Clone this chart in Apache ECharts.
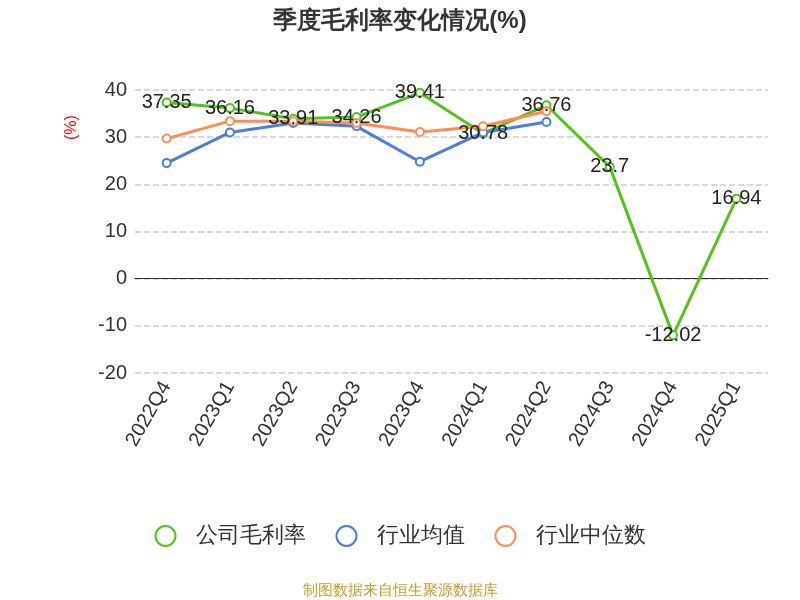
<!DOCTYPE html>
<html><head><meta charset="utf-8">
<script src="https://cdn.jsdelivr.net/npm/echarts@6/dist/echarts.min.js"></script>
</head><body style="margin:0">
<div id="main" style="width:800px;height:600px"></div>
<script>
var categories = ['2022Q4', '2023Q1', '2023Q2', '2023Q3', '2023Q4', '2024Q1', '2024Q2', '2024Q3', '2024Q4', '2025Q1'];
var company = [37.35, 36.16, 33.91, 34.26, 39.41, 30.78, 36.76, 23.7, -12.02, 16.94];
var industryAvg = [24.5, 31.0, 33.0, 32.3, 24.8, 31.0, 33.2, null, null, null];
var industryMedian = [29.7, 33.4, 33.4, 33.0, 31.1, 32.3, 35.5, null, null, null];

var myChart = echarts.init(document.getElementById('main'));
var option = {
    title: {
        text: '季度毛利率变化情况(%)',
        left: 'center',
        top: 4,
        textStyle: { fontSize: 24, fontWeight: 'bold', color: '#333' }
    },
    legend: {
        bottom: 48,
        itemWidth: 50,
        itemHeight: 20,
        itemGap: 30,
        icon: 'emptyCircle',
        textStyle: { fontSize: 22, color: '#333' },
        data: ['公司毛利率', '行业均值', '行业中位数']
    },
    graphic: [{
        type: 'text',
        left: 'center',
        bottom: 2,
        style: { text: '制图数据来自恒生聚源数据库', fill: '#c89a2c', fontSize: 15 }
    }, {
        type: 'text',
        x: 64, y: 140,
        rotation: Math.PI / 2,
        style: { text: '(%)', fill: 'red', fontSize: 16 }
    }],
    grid: { left: 135, right: 32, top: 90, bottom: 227 },
    xAxis: {
        type: 'category',
        data: categories,
        axisLine: { lineStyle: { color: '#333' } },
        axisTick: { length: 8 },
        axisLabel: { rotate: 60, fontSize: 20, color: '#333', interval: 0, margin: 10 }
    },
    yAxis: {
        type: 'value',
        min: -20, max: 40, interval: 10,
        axisLine: { show: false },
        axisTick: { show: false },
        axisLabel: { fontSize: 20, color: '#333' },
        splitLine: { lineStyle: { type: 'dashed', color: '#ccc', width: 1.5 } }
    },
    series: [{
        name: '公司毛利率',
        type: 'line',
        data: company,
        symbol: 'emptyCircle',
        symbolSize: 8,
        itemStyle: { color: '#52c41a' },
        lineStyle: { width: 3 },
        label: { show: true, position: 'inside', fontSize: 20, color: '#222' },
        z: 3
    }, {
        name: '行业均值',
        type: 'line',
        data: industryAvg,
        symbol: 'emptyCircle',
        symbolSize: 8,
        itemStyle: { color: '#4a7fe0' },
        lineStyle: { width: 3 }
    }, {
        name: '行业中位数',
        type: 'line',
        data: industryMedian,
        symbol: 'emptyCircle',
        symbolSize: 8,
        itemStyle: { color: '#ff8c55' },
        lineStyle: { width: 3 }
    }]
};
myChart.setOption(option);
</script>
</body></html>
